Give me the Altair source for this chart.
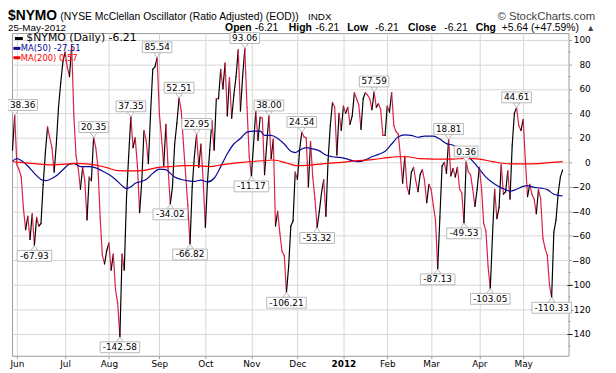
import altair as alt
import pandas as pd

# ---------------- data ----------------
holidays = ["2011-05-30", "2011-07-04", "2011-09-05", "2011-11-24", "2011-12-26",
            "2012-01-02", "2012-01-16", "2012-02-20", "2012-04-06"]
dates = pd.bdate_range("2011-05-27", "2012-05-25")
dates = dates[~dates.isin(pd.to_datetime(holidays))]

nymo = [10, 38.36, -2, -6, -12, -38, -55, -44, -63, -42,
        -67.93, -45, -52, -50, -18, 8, 29, 20, 12, -8,
        15, 45, 65, 82, 90, 78, 70, 95, 38, 5,
        -5, -22, -4, -15, -47, -12, -15, 20.35, 12, -4,
        -45, -76, -83, -72, -66, -88, -75, -104, -115, -142.58,
        -75, -88, -30, 5, 37.35, 12, 20, -3, -41, -15,
        26, 18, -1, 40, 76, 78, 85.54, 40, 20, -3,
        31, -5, -34.02, -20, 15, 32, 52.51, 42, 15, -10,
        -35, -66.82, -20, 5, 22.95, -4, 15, -15, -53, -15,
        10, 34, 10, 52, 52, 76, 60, 81, 38, 69,
        36, 55, 70, 92, 42, 70, 93.06, 45, 5, -11.17,
        15, 42, 18, 37, 36, -10, 15, 38.00, 3, 19,
        -52, -40, -58, -73, -76, -106.21, -85, -52, -48, -8,
        -14, 10, 24.54, 21, 20, -20, 17, -12, -30, -53.32,
        -40, -25, -14, -44, 2, 30, 49, 45, 6, 40,
        26, 46, 40, 45, 31, 38, 57, 52, 47, 27,
        52, 57, 55, 52, 43, 57.59, 45, 48, 43, 22,
        22, 46, 41, 57, 30, 25, 23, 5, -17, 5,
        -20, -26, -8, -4, -15, -24, -10, -6, -15, -33,
        -18, -22, -35, -47, -87.13, -45, -3, 0, -9, 18.81,
        -11, -5, -12, -4, -22, -25, -49.53, 0.36, -8, -10,
        -22, -36, -22, -4, -21, -50, -56, -85, -103.05, -60,
        -22, -46, -37, -2, -26, -24, -7, -30, 14, 40,
        44.61, 30, 26, 35, 2, -28, -18, -26, -30, -42,
        -22, -30, -62, -70, -76, -100, -110.33, -57, -47, -25,
        -11.85, -6.21]

ma50_day = [0, 2, 4, 7, 10, 13, 15, 17, 20, 23, 26, 28, 31, 35, 38, 41, 44, 47, 50, 52,
            54, 56, 58, 61, 64, 67, 70, 72, 74, 77, 80, 83, 86, 89, 92, 95, 98, 101, 104, 107,
            110, 113, 115, 118, 121, 124, 127, 129, 131, 134, 137, 140, 143, 146, 149, 152, 155, 158, 161, 164,
            167, 170, 173, 176, 179, 182, 185, 188, 192, 195, 198, 201, 204, 207, 210, 213, 216, 219, 222, 225,
            227, 230, 233, 235, 238, 241, 244, 247, 249, 251]
ma50_val = [1, 3, 1.5, -3, -9, -14, -15, -14, -11, -6, -1.5, -1, -3.5, -3.5, -4.5, -7, -10, -14, -19, -21.5,
            -20, -17, -16, -14, -9, -5.5, -6, -9, -12, -14, -15, -15.6, -14.5, -16, -13, -3.5, 7, 15, 19.5, 24.7,
            25.5, 25.5, 22, 22, 19.5, 15, 9, 8, 10, 12, 11, 9.4, 6, 4.6, 4, 3, 1.4, 0.6, 2, 4.6,
            6.5, 9, 15, 21, 22.5, 22, 20.5, 21.5, 21.5, 19, 15.3, 14, 11, 6, 1, -5.5, -12, -16.5, -20, -22.3,
            -23.6, -22, -19.6, -19, -20.5, -21, -22.3, -26, -27, -27.51]

ma200_day = [0, 10, 17, 24, 28, 35, 40, 44, 48, 54, 60, 66, 72, 78, 84, 90, 96, 105, 114, 119,
             125, 130, 136, 144, 150, 156, 165, 171, 175, 180, 186, 192, 201, 207, 213, 219, 227, 234, 240, 246, 251]
ma200_val = [0.5, -1, -2, -1.5, -0.8, -1.5, -3, -4.8, -6.8, -7, -6.5, -4.3, -3.5, -2.7, -2.7, -3.5, -1.8, 0, 1.3, 1.9,
             -0.5, -2.7, -2.2, -0.8, 0, 1.1, 2.4, 3.8, 4.6, 4.6, 3, 2.7, 2.7, 3.2, 2.7, 0.6, -1.3, -1.3, -1, 0, 0.57]

ann_day = [1, 10, 37, 49, 54, 66, 72, 76, 81, 84, 106, 109, 117, 125, 132, 139,
           165, 194, 199, 206, 207, 218, 230, 246]
ann_text = ["38.36", "-67.93", "20.35", "-142.58", "37.35", "85.54", "-34.02", "52.51",
            "-66.82", "22.95", "93.06", "-11.17", "38.00", "-106.21", "24.54", "-53.32",
            "57.59", "-87.13", "18.81", "-49.53", "0.36", "-103.05", "44.61", "-110.33"]

month_labels = ["Jun", "Jul", "Aug", "Sep", "Oct", "Nov", "Dec", "2012", "Feb", "Mar", "Apr", "May"]
y_ticks = [100, 80, 60, 40, 20, 0, -20, -40, -60, -80, -100, -120, -140]
y_minor = [90, 70, 50, 30, 10, -10, -30, -50, -70, -90, -110, -130, -150]

# ---------------- derived tables ----------------
periods = pd.Series(dates.to_period("M"))
month_day = [int(periods[periods == p].index[0]) for p in periods.unique()[1:]]
year_day = month_day[month_labels.index("2012")]

seg = pd.DataFrame({
    "x": list(range(len(nymo) - 1)),
    "x2": list(range(1, len(nymo))),
    "y": nymo[:-1],
    "y2": nymo[1:],
})
seg["dir"] = ["up" if b > a else "down" for a, b in zip(nymo[:-1], nymo[1:])]

ma50 = pd.DataFrame({"x": ma50_day, "y": ma50_val})
ma200 = pd.DataFrame({"x": ma200_day, "y": ma200_val})

ann = pd.DataFrame({"x": ann_day, "text": ann_text, "y": [nymo[d] for d in ann_day]})
ann["peak"] = [nymo[d] >= nymo[d - 1] for d in ann_day]
ann["n"] = ann["text"].str.len()
# keep the first box inside the drawing area (it sits on the left frame)
ann["dx"] = [8 if d < 3 else 0 for d in ann_day]

# ---------------- scales / axes ----------------
W, H = 564, 327
xs = alt.Scale(domain=[-0.25, 253.7], nice=False, zero=False)
ys = alt.Scale(domain=[-158, 105.6], nice=False, zero=False)

label_expr = " : ".join(f"datum.value == {d} ? '{l}'" for d, l in zip(month_day, month_labels)) + " : ''"

x_axis = alt.Axis(values=month_day, labelExpr=label_expr, title=None, grid=True,
                  gridColor="#d6d6d6", domain=False, ticks=True, tickSize=3, tickColor="#999999",
                  labelFont="DejaVu Sans", labelFontSize=9, labelColor="#000000", labelPadding=1,
                  labelFontWeight={"condition": {"test": f"datum.value == {year_day}", "value": "bold"},
                                   "value": "normal"})
y_axis = alt.Axis(orient="right", values=y_ticks, title=None, grid=True, gridColor="#d6d6d6",
                  domain=False, ticks=True, tickSize=3, tickColor="#999999",
                  labelFont="DejaVu Sans", labelFontSize=9, labelColor="#000000",
                  labelAlign="right", labelPadding=19)


def X(f="x:Q"):
    return alt.X(f, scale=xs, axis=x_axis)


def Y(f="y:Q"):
    return alt.Y(f, scale=ys, axis=y_axis)


lines = alt.Chart(seg).mark_rule(strokeWidth=1.2, strokeCap="round").encode(
    x=X(), x2="x2:Q", y=Y(), y2="y2:Q",
    color=alt.Color("dir:N", scale=alt.Scale(domain=["up", "down"], range=["#000000", "#dc1f45"]), legend=None),
)

ma50_line = alt.Chart(ma50).mark_line(color="#0a0a96", strokeWidth=1.2, interpolate="monotone").encode(
    x=X(), y=Y())
ma200_line = alt.Chart(ma200).mark_line(color="#ff0000", strokeWidth=1.2, interpolate="monotone").encode(
    x=X(), y=Y())

minor = alt.Chart(pd.DataFrame({"y": y_minor})).mark_rule(color="#999999", strokeWidth=1).encode(
    x=alt.value(W), x2=alt.value(W + 2), y=Y())

# annotation labels
ann_layers = []
tri_down = "M-1,-0.7L1,-0.7L0,0.7Z"
tri_up = "M-1,0.7L1,0.7L0,-0.7Z"
box_w = {4: 24, 5: 30, 6: 35, 7: 40}
for is_peak, sign in [(True, -1), (False, 1)]:
    sub = ann[ann["peak"] == is_peak]
    ann_layers.append(
        alt.Chart(sub).mark_point(shape=tri_down if is_peak else tri_up, size=49, filled=True,
                                  fill="white", stroke="#b8b8b8", strokeWidth=1, opacity=1,
                                  yOffset=sign * 2.5).encode(x=X(), y=Y()))
    for (n, dx), sub2 in sub.groupby(["n", "dx"]):
        ann_layers.append(
            alt.Chart(sub2).mark_rect(width=box_w[int(n)], height=11, fill="white", stroke="#b8b8b8",
                                      strokeWidth=1, yOffset=sign * 10.5, xOffset=int(dx)).encode(x=X(), y=Y()))
        ann_layers.append(
            alt.Chart(sub2).mark_text(font="DejaVu Sans", fontSize=9, color="#000000", baseline="middle",
                                      align="center", dy=sign * 10.5, dx=int(dx)).encode(
                x=X(), y=Y(), text="text:N"))


def txt(s, x, y, size, weight="normal", color="#000000", align="left", font="Liberation Sans",
        baseline="alphabetic"):
    return alt.Chart(pd.DataFrame({"t": [s]})).mark_text(
        font=font, fontSize=size, fontWeight=weight, color=color, align=align, baseline=baseline
    ).encode(x=alt.value(x), y=alt.value(y), text="t:N")


def rule(x1, x2, y, color):
    return alt.Chart(pd.DataFrame({"a": [0]})).mark_rule(color=color, strokeWidth=3).encode(
        x=alt.value(x1), x2=alt.value(x2), y=alt.value(y))


# header (plot origin is page (12, 31))
L1, L2 = -13, -2.6
header = [
    txt("$NYMO", -4, L1, 14, "bold"),
    txt("(NYSE McClellan Oscillator (Ratio Adjusted) (EOD))", 49, L1, 10.5),
    txt("INDX", 300, L1, 10),
    txt("\u00a9 StockCharts.com", 591, L1, 11.5, color="#444444", align="right"),
    txt("25-May-2012", -4, L2, 10),
    txt("Open", 216, L2, 10.5, "bold"), txt("-6.21", 246, L2, 10.5),
    txt("High", 280.6, L2, 10.5, "bold"), txt("-6.21", 307.7, L2, 10.5),
    txt("Low", 339.8, L2, 10.5, "bold"), txt("-6.21", 368, L2, 10.5),
    txt("Close", 401.4, L2, 10.5, "bold"), txt("-6.21", 438, L2, 10.5),
    txt("Chg", 470, L2, 10.5, "bold"), txt("+5.64 (+47.59%)", 496.4, L2, 10.5),
    txt("\u25b2", 591, L2, 9, color="#444444", align="right"),
]

legend = [
    rule(3, 11, 5.5, "#000000"),
    txt("$NYMO (Daily) -6.21", 14.5, 5.5, 11, font="DejaVu Sans", baseline="middle"),
    rule(1.5, 8.5, 15.5, "#0a0a96"),
    txt("MA(50) -27.51", 9, 15.5, 8.5, color="#0a0a96", font="DejaVu Sans", baseline="middle"),
    rule(1.5, 8.5, 25, "#ff0000"),
    txt("MA(200) 0.57", 9, 25, 8.5, color="#ff0000", font="DejaVu Sans", baseline="middle"),
]

chart = alt.layer(lines, ma50_line, ma200_line, minor, *ann_layers, *legend, *header).properties(
    width=W, height=H,
    autosize=alt.AutoSizeParams(type="none"),
    padding={"left": 4, "top": 23, "right": 40, "bottom": 12},
    background="white",
).configure_view(stroke="#9a9a9a", strokeWidth=1)

chart.save("out.html", embed_options={"renderer": "svg", "actions": False})
